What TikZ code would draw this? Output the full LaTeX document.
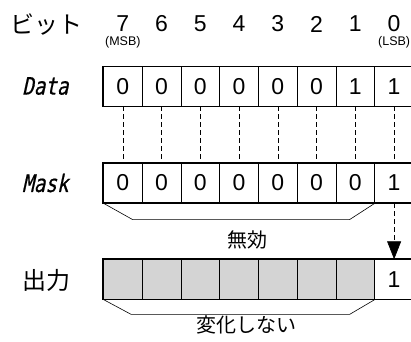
\documentclass[tikz,border=0pt]{standalone}
\usepackage{fontspec}
\setmainfont{Liberation Sans}
\newfontfamily\jp{Noto Sans CJK JP}
\newfontfamily\slmono[FakeSlant=0.22,FakeStretch=0.8,FakeBold=0.6]{DejaVu Sans Mono}
\usetikzlibrary{arrows.meta,positioning}
\tikzset{cell/.style={draw, line width=.8pt, minimum width=38.75pt, minimum height=39.3pt, inner sep=0pt, font=\fontsize{23}{23}\selectfont},
  graycell/.style={cell, fill=black!17},
  frame/.style={line width=1.6pt},
  link/.style={line width=.6pt, dash pattern=on 5pt off 3pt},
  brace/.style={line width=.6pt},
  rowlabel/.style={anchor=west, inner sep=0pt},
  bitnum/.style={font=\fontsize{23}{23}\selectfont, inner sep=0pt},
  bitnote/.style={font=\fontsize{12.5}{12.5}\selectfont, inner sep=0pt}}

\begin{document}
\begin{tikzpicture}[x=1pt, y=-1pt]
\useasboundingbox (0,0) rectangle (411,341);
% row labels
\node[rowlabel, font=\jp\fontsize{24}{24}\selectfont] (bitlbl) at (10,25) {ビット};
\node[rowlabel, font=\slmono\fontsize{24}{24}\selectfont] (datalbl) at (22,86) {Data};
\node[rowlabel, font=\slmono\fontsize{24}{24}\selectfont] (masklbl) at (22,183) {Mask};
\node[rowlabel, font=\jp\fontsize{24}{24}\selectfont] (outlbl) at (22,280) {出力};
% bits, data, mask, output
\foreach \b/\d/\m [count=\i from 0] in {7/0/0,6/0/0,5/0/0,4/0/0,3/0/0,2/0/0,1/1/0,0/1/1} {
  \node[bitnum] (n\b) at (122.875+38.75*\i, 24) {\b};
  \node[cell] (d\b) at (122.875+38.75*\i, 86.35) {\d};
  \node[cell] (m\b) at (122.875+38.75*\i, 183) {\m};
}
\foreach \b [count=\i from 0] in {7,...,1}
  \node[graycell] (o\b) at (122.875+38.75*\i, 279.3) {};
\node[cell] (o0) at (122.875+38.75*7, 279.3) {1};
\node[bitnote] (msb) at ([yshift=-18pt]n7.center) {(MSB)};
\node[bitnote] (lsb) at ([yshift=-18pt]n0.center) {(LSB)};
% frames
\draw[frame] (d7.north west) rectangle (d0.south east);
\draw[frame] (m7.north west) rectangle (m0.south east);
\draw[frame] (o7.north west) rectangle (o0.south east);
% dashed links
\foreach \b in {7,...,0}
  \draw[link] (d\b.south) -- (m\b.north);
\draw[link, -{Triangle[length=18pt, width=14pt]}] (m0.south) -- (o0.north);
% braces
\draw[brace] (m7.south west) -- ++(29.5,16.5) -- ([xshift=-25.5pt, yshift=-16.5pt]m1.south east) -- (m1.south east);
\node[font=\jp\fontsize{20}{20}\selectfont] (invalid) at (247,240) {無効};
\draw[brace] (o7.south west) -- ++(28,15) -- ([xshift=-25.5pt, yshift=-15pt]o1.south east) -- (o1.south east);
\node[font=\jp\fontsize{20}{20}\selectfont] (unchanged) at (246,325) {変化しない};
\end{tikzpicture}
\end{document}
